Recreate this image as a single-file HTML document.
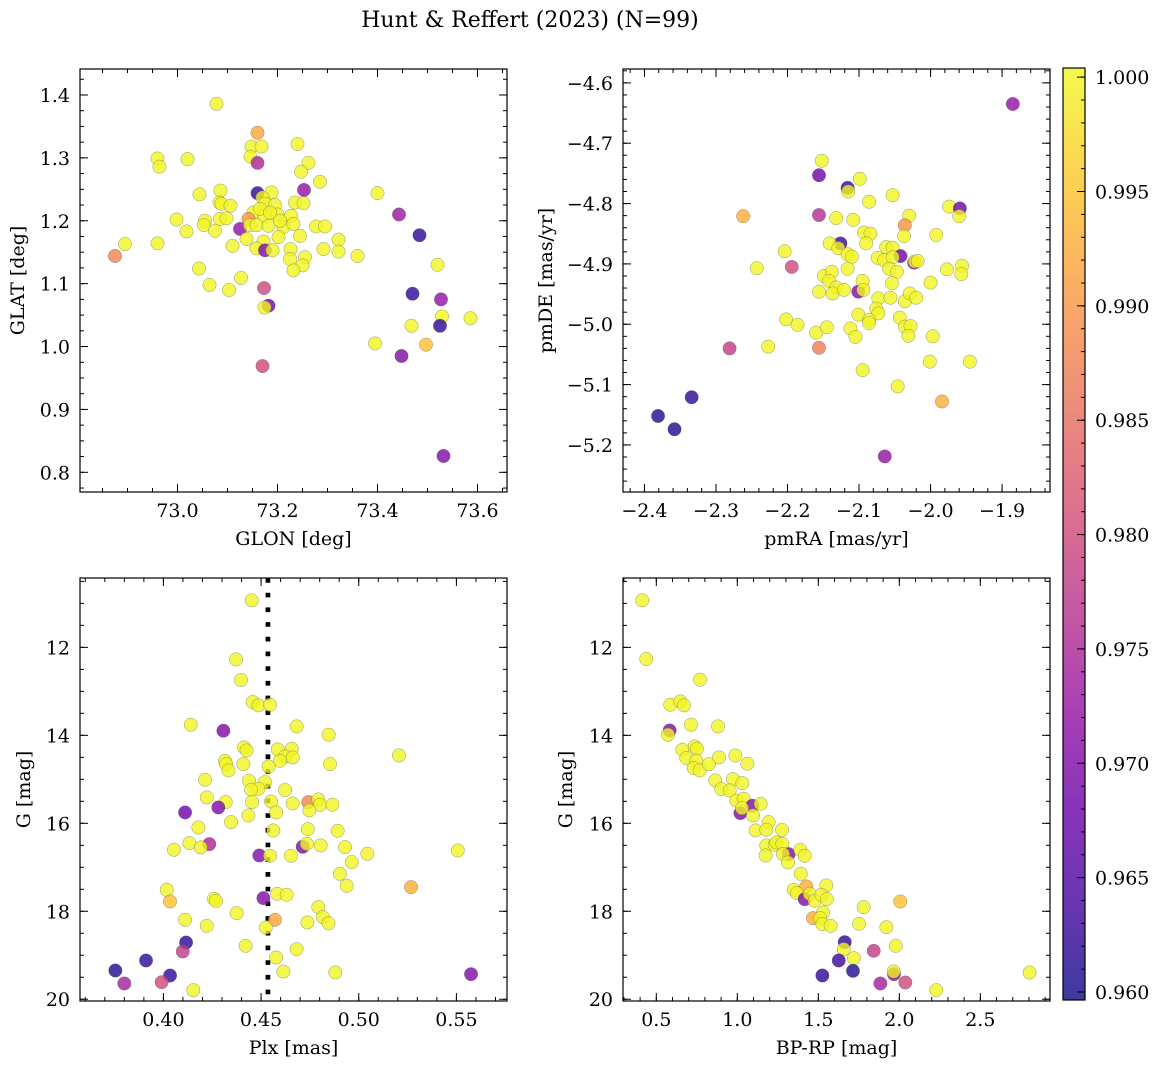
<!DOCTYPE html>
<html><head><meta charset="utf-8"><style>
html,body{margin:0;padding:0;background:#fff;}
svg{display:block;font-family:"DejaVu Serif","Liberation Serif",serif;}
</style></head><body>
<svg id="chart" width="1161" height="1068" viewBox="0 0 1161 1068" xmlns="http://www.w3.org/2000/svg">
<text x="530" y="27" text-anchor="middle" font-size="22">Hunt &amp; Reffert (2023) (N=99)</text>
</svg>
<script>
// ---- data: panel 1 (GLON/GLAT)
const glon=[73.078,73.160,73.148,73.168,73.146,73.160,73.240,73.262,73.247,73.285,72.960,72.964,73.020,73.253,73.160,73.044,73.086,73.188,73.170,73.084,73.088,73.106,73.175,73.195,73.235,73.252,73.400,73.443,73.484,72.998,73.055,73.085,73.098,73.152,73.174,73.200,73.227,73.142,73.053,73.075,73.125,73.145,73.158,73.182,73.212,73.232,73.277,73.295,73.018,72.895,72.960,73.110,73.138,73.172,73.202,73.245,73.322,73.158,73.175,73.190,73.226,73.225,73.255,73.250,73.232,73.292,73.322,73.360,72.875,73.520,73.043,73.127,73.064,73.103,73.173,73.182,73.174,73.470,73.527,73.529,73.525,73.586,73.468,73.395,73.497,73.448,73.170,73.532,73.165,73.185,73.205];
const glat=[1.386,1.340,1.318,1.318,1.302,1.292,1.322,1.292,1.278,1.262,1.299,1.286,1.298,1.249,1.244,1.242,1.248,1.245,1.237,1.229,1.227,1.224,1.227,1.225,1.229,1.228,1.244,1.210,1.177,1.202,1.200,1.203,1.204,1.213,1.208,1.210,1.208,1.203,1.193,1.184,1.187,1.193,1.193,1.192,1.190,1.195,1.191,1.191,1.183,1.163,1.164,1.160,1.171,1.167,1.174,1.176,1.170,1.156,1.153,1.153,1.155,1.139,1.142,1.129,1.121,1.155,1.151,1.144,1.144,1.130,1.124,1.109,1.098,1.090,1.093,1.065,1.062,1.084,1.075,1.048,1.033,1.045,1.033,1.005,1.003,0.985,0.969,0.826,1.219,1.213,1.200];
const prob1=[1,.992,1,1,1,.975,1,1,1,1,1,1,1,.972,.962,1,1,1,1,1,1,1,1,1,1,1,1,.973,.962,1,1,1,1,1,1,1,1,.99,1,1,.972,1,1,1,1,1,1,1,1,1,1,1,1,1,1,1,1,1,.970,1,1,1,1,1,1,1,1,1,.988,1,1,1,1,1,.980,.968,1,.962,.972,1,.962,1,1,1,.995,.970,.980,.970,1,1,1];
// ---- data: panel 2 (pmRA/pmDE)
const pmra=[-1.885,-2.152,-2.156,-2.116,-2.115,-2.099,-2.053,-2.086,-2.262,-2.156,-2.132,-2.108,-2.030,-2.036,-1.974,-1.959,-1.960,-2.093,-2.084,-2.090,-2.037,-1.992,-2.126,-2.141,-2.129,-2.204,-2.116,-2.110,-2.062,-2.053,-2.042,-2.074,-2.065,-2.053,-2.023,-2.022,-2.018,-2.243,-2.194,-2.116,-2.058,-2.047,-1.977,-1.956,-1.957,-2.149,-2.138,-2.142,-2.132,-2.137,-2.121,-2.156,-2.101,-2.095,-2.094,-2.054,-2.000,-2.073,-2.056,-2.036,-2.029,-2.020,-2.076,-2.073,-2.101,-2.086,-2.086,-2.043,-2.036,-2.028,-2.031,-1.997,-2.202,-2.186,-2.160,-2.145,-2.112,-2.105,-2.281,-2.227,-2.156,-2.095,-2.001,-1.945,-2.046,-1.984,-2.334,-2.381,-2.358,-2.064];
const pmde=[-4.635,-4.729,-4.753,-4.774,-4.780,-4.759,-4.786,-4.797,-4.821,-4.819,-4.824,-4.827,-4.820,-4.836,-4.805,-4.808,-4.821,-4.848,-4.850,-4.866,-4.854,-4.852,-4.866,-4.866,-4.874,-4.879,-4.884,-4.888,-4.872,-4.873,-4.887,-4.890,-4.894,-4.889,-4.898,-4.896,-4.895,-4.907,-4.905,-4.908,-4.908,-4.913,-4.909,-4.903,-4.917,-4.920,-4.913,-4.928,-4.939,-4.949,-4.943,-4.946,-4.946,-4.928,-4.943,-4.932,-4.931,-4.957,-4.956,-4.962,-4.949,-4.956,-4.974,-4.982,-4.984,-4.993,-4.998,-4.989,-5.004,-5.003,-5.019,-5.020,-4.992,-5.001,-5.014,-5.005,-5.007,-5.021,-5.040,-5.037,-5.039,-5.076,-5.062,-5.062,-5.103,-5.128,-5.121,-5.152,-5.174,-5.219];
const prob2=[.972,1,.968,.962,1,1,1,1,.993,.976,1,1,1,.99,1,.968,1,1,1,1,1,1,.963,1,1,1,1,1,1,1,.968,1,1,1,.97,1,1,1,.98,1,1,1,1,1,1,1,1,1,1,1,1,1,.97,1,1,1,1,1,1,1,1,1,1,1,1,1,1,1,1,1,1,1,1,1,1,1,1,1,.978,1,.987,1,1,1,1,.993,.962,.961,.961,.972];
// ---- data: panel 3 (Plx/G)
const plx=[.4452,.4372,.4397,.4457,.4486,.4546,.4140,.4307,.4682,.4846,.4413,.4426,.4585,.4657,.4623,.4662,.4597,.4315,.4321,.4333,.4409,.4539,.4853,.5206,.4213,.4438,.4520,.4486,.4449,.4623,.4222,.4319,.4454,.4551,.4662,.4742,.4793,.4802,.4865,.4747,.4111,.4281,.4435,.4577,.4346,.4179,.4563,.4739,.4892,.4133,.4235,.4191,.4054,.4491,.4546,.4653,.4713,.4734,.4805,.4930,.5044,.5507,.4964,.4904,.4938,.5268,.4017,.4034,.4259,.4269,.4512,.4583,.4631,.4375,.4793,.4816,.4845,.4571,.4111,.4222,.4524,.4737,.4116,.4099,.4421,.4682,.3911,.4577,.3754,.4034,.4614,.4880,.3800,.3991,.4153,.5575];
const gmag3=[10.931,12.273,12.743,13.243,13.319,13.304,13.759,13.895,13.797,13.986,14.274,14.343,14.320,14.305,14.479,14.502,14.578,14.578,14.654,14.797,14.654,14.707,14.654,14.456,15.010,15.033,15.063,15.215,15.237,15.245,15.412,15.518,15.518,15.503,15.548,15.518,15.457,15.578,15.578,15.707,15.753,15.639,15.821,15.753,15.973,16.094,16.162,16.132,16.170,16.450,16.473,16.549,16.602,16.731,16.738,16.738,16.534,16.465,16.503,16.541,16.693,16.617,16.882,17.148,17.421,17.451,17.512,17.777,17.716,17.762,17.701,17.603,17.625,18.042,17.906,18.133,18.270,18.194,18.194,18.331,18.368,18.255,18.710,18.914,18.785,18.861,19.119,19.051,19.346,19.460,19.369,19.392,19.642,19.612,19.794,19.430];
const prob3=[1,1,1,1,1,1,1,.97,1,1,1,1,1,1,1,1,1,1,1,1,1,1,1,1,1,1,1,1,1,1,1,1,1,1,1,.988,1,1,1,1,.968,.97,1,1,1,1,1,1,1,1,.975,1,1,.97,1,1,.97,1,1,1,1,1,1,1,1,.993,1,.995,1,1,.97,1,1,1,1,1,1,.992,1,1,1,1,.962,.978,1,1,.962,1,.961,.962,1,1,.974,.98,1,.97];
// ---- data: panel 4 (BP-RP/G)
const bprp=[0.413,0.438,0.770,0.586,0.648,0.671,0.582,0.572,0.714,0.881,0.661,0.737,0.751,0.685,0.747,0.731,0.768,0.825,0.887,0.988,1.062,0.864,0.973,1.031,0.901,0.953,0.994,1.039,1.093,1.144,1.019,1.029,1.097,1.193,1.113,1.179,1.276,1.179,1.231,1.241,1.278,1.317,1.175,1.282,1.313,1.389,1.416,1.391,1.348,1.426,1.368,1.416,1.447,1.477,1.549,1.519,1.553,1.467,1.529,1.512,1.525,1.576,1.780,2.006,1.751,1.920,1.663,1.657,1.626,1.720,1.842,1.978,1.714,1.525,1.967,1.965,1.883,2.037,2.228,2.804];
const gmag4=[10.931,12.265,12.735,13.304,13.228,13.319,13.888,13.986,13.759,13.797,14.327,14.252,14.305,14.517,14.578,14.745,14.797,14.654,14.502,14.456,14.646,15.025,14.995,15.086,15.222,15.252,15.487,15.442,15.601,15.556,15.768,15.654,15.821,15.973,16.162,16.147,16.147,16.503,16.488,16.435,16.465,16.701,16.731,16.701,16.890,16.602,16.738,17.148,17.512,17.436,17.587,17.724,17.603,17.762,17.413,17.625,17.724,18.156,18.027,18.156,18.293,18.331,17.906,17.777,18.285,18.361,18.702,18.861,19.119,19.066,18.899,18.785,19.354,19.460,19.430,19.369,19.642,19.619,19.794,19.392];
const prob4=[1,1,1,1,1,1,.97,1,1,1,1,1,1,1,1,1,1,1,1,1,1,1,1,1,1,1,1,1,.97,1,.97,1,1,1,1,1,1,1,1,1,1,.97,1,1,1,1,1,1,1,.993,1,.97,1,1,1,1,1,.993,1,1,1,1,1,.995,1,1,.962,1,.963,1,.978,1,.961,.962,.97,1,.974,.98,1,1];
// ---- tick arrays
const p1xTicks=[73.0,73.2,73.4,73.6], p1yTicks=[0.8,0.9,1.0,1.1,1.2,1.3,1.4];
const p2xTicks=[-2.4,-2.3,-2.2,-2.1,-2.0,-1.9], p2yTicks=[-4.6,-4.7,-4.8,-4.9,-5.0,-5.1,-5.2];
const p3xTicks=[0.40,0.45,0.50,0.55], gTicks=[12,14,16,18,20];
const p4xTicks=[0.5,1.0,1.5,2.0,2.5];
const cbTicks=[0.960,0.965,0.970,0.975,0.980,0.985,0.990,0.995,1.000];
const plxMean=0.4535;
const VMIN=0.95965, VMAX=1.0004;

const NS="http://www.w3.org/2000/svg";
const svg=document.getElementById('chart');
function mk(tag,attrs,parent){const e=document.createElementNS(NS,tag);for(const k in attrs)e.setAttribute(k,attrs[k]);(parent||svg).appendChild(e);return e;}
const PL=["#0d0887","#41049d","#6a00a8","#8f0da4","#b12a90","#cc4778","#e16462","#f2844b","#fca636","#fcce25","#f0f921"];
function hex(h){return [parseInt(h.substr(1,2),16),parseInt(h.substr(3,2),16),parseInt(h.substr(5,2),16)];}
function plasma(v){let t=(v-VMIN)/(VMAX-VMIN);t=Math.max(0,Math.min(1,t));const f=t*10,i=Math.min(9,Math.floor(f)),u=f-i;const a=hex(PL[i]),b=hex(PL[i+1]);return 'rgb('+a.map((c,k)=>Math.round(c+(b[k]-c)*u)).join(',')+')';}
function fmt(v,d){return (v<0?'\u2212':'')+Math.abs(v).toFixed(d);}
const FS=19;

function panel(c){
  const sx=v=>c.x0+(v-c.xd[0])/(c.xd[1]-c.xd[0])*(c.x1-c.x0);
  const sy=v=>c.y0+(v-c.yd[0])/(c.yd[1]-c.yd[0])*(c.y1-c.y0);
  const g=mk('g',{});
  
  
  const cp=mk('clipPath',{id:'cp-'+c.name},g);
  mk('rect',{x:c.x0,y:c.y0,width:c.x1-c.x0,height:c.y1-c.y0},cp);
  const pts=mk('g',{'clip-path':'url(#cp-'+c.name+')'},g);
  if(c.vline!==undefined){
    const l=mk('line',{x1:sx(c.vline),x2:sx(c.vline),y1:c.y0,y2:c.y1,stroke:'#000','stroke-width':4.7,'stroke-dasharray':'4.7 10'},pts);
    
    
  }
  for(let i=0;i<c.xs.length;i++){
    const ci=mk('circle',{cx:sx(c.xs[i]),cy:sy(c.ys[i]),r:6.7,fill:plasma(c.ps[i]),'fill-opacity':0.8,stroke:'#555','stroke-width':0.5,'stroke-opacity':0.6},pts);
    
    
  }
  const fr=mk('rect',{x:c.x0,y:c.y0,width:c.x1-c.x0,height:c.y1-c.y0,fill:'none',stroke:'#000','stroke-width':1.2},g);
  
  
  const tk=mk('g',{stroke:'#000','stroke-width':1},g);
  const xlo=Math.min(...c.xd),xhi=Math.max(...c.xd),ylo=Math.min(...c.yd),yhi=Math.max(...c.yd);
  for(let v=Math.ceil(xlo/c.xm-1e-6)*c.xm;v<=xhi;v+=c.xm){const X=sx(v);mk('line',{x1:X,x2:X,y1:c.y1,y2:c.y1-4},tk);mk('line',{x1:X,x2:X,y1:c.y0,y2:c.y0+4},tk);}
  for(let v=Math.ceil(ylo/c.ym-1e-6)*c.ym;v<=yhi;v+=c.ym){const Y=sy(v);mk('line',{x1:c.x0,x2:c.x0+4,y1:Y,y2:Y},tk);mk('line',{x1:c.x1,x2:c.x1-4,y1:Y,y2:Y},tk);}
  c.xt.forEach(v=>{const X=sx(v);mk('line',{x1:X,x2:X,y1:c.y1,y2:c.y1-8},tk);mk('line',{x1:X,x2:X,y1:c.y0,y2:c.y0+8},tk);
    const t=mk('text',{x:X,y:c.y1+25,'text-anchor':'middle','font-size':FS},g);t.textContent=fmt(v,c.xdec);
    
    });
  c.yt.forEach(v=>{const Y=sy(v);mk('line',{x1:c.x0,x2:c.x0+8,y1:Y,y2:Y},tk);mk('line',{x1:c.x1,x2:c.x1-8,y1:Y,y2:Y},tk);
    const t=mk('text',{x:c.x0-10,y:Y+7,'text-anchor':'end','font-size':FS},g);t.textContent=fmt(v,c.ydec);
    
    });
  const xl=mk('text',{x:(c.x0+c.x1)/2,y:c.y1+53,'text-anchor':'middle','font-size':FS},g);xl.textContent=c.xlab;
  
  
  const yl=mk('text',{x:0,y:0,'text-anchor':'middle','font-size':FS,transform:'translate('+c.ylx+','+((c.y0+c.y1)/2)+') rotate(-90)'},g);yl.textContent=c.ylab;
  
  
}
panel({name:'glon-glat-panel',x0:80,x1:507,y0:69,y1:492,xd:[72.805,73.659],yd:[1.4413,0.7687],xs:glon,ys:glat,ps:prob1,xt:p1xTicks,yt:p1yTicks,xm:0.05,ym:0.025,xdec:1,ydec:1,xlab:'GLON [deg]',ylab:'GLAT [deg]',ylx:24});
panel({name:'pm-panel',x0:623,x1:1050,y0:69,y1:492,xd:[-2.430,-1.833],yd:[-4.577,-5.278],xs:pmra,ys:pmde,ps:prob2,xt:p2xTicks,yt:p2yTicks,xm:0.02,ym:0.02,xdec:1,ydec:1,xlab:'pmRA [mas/yr]',ylab:'pmDE [mas/yr]',ylx:552});
panel({name:'plx-g-panel',x0:80,x1:507,y0:578,y1:1001,xd:[0.3573,0.5759],yd:[10.423,20.04],xs:plx,ys:gmag3,ps:prob3,xt:p3xTicks,yt:gTicks,xm:0.01,ym:0.5,xdec:2,ydec:0,xlab:'Plx [mas]',ylab:'G [mag]',ylx:30,vline:plxMean});
panel({name:'cmd-panel',x0:623,x1:1050,y0:578,y1:1001,xd:[0.2944,2.930],yd:[10.423,20.04],xs:bprp,ys:gmag4,ps:prob4,xt:p4xTicks,yt:gTicks,xm:0.1,ym:0.5,xdec:1,ydec:0,xlab:'BP-RP [mag]',ylab:'G [mag]',ylx:572});

// colorbar
const cb=mk('g',{});


const defs=mk('defs',{},cb);
const lg=mk('linearGradient',{id:'plg',x1:0,y1:1,x2:0,y2:0},defs);
PL.forEach((c,i)=>mk('stop',{offset:(i*10)+'%','stop-color':c},lg));
const CX0=1063,CX1=1085,CY0=68,CY1=1000;
const cy=v=>CY1-(v-VMIN)/(VMAX-VMIN)*(CY1-CY0);
mk('rect',{x:CX0,y:CY0,width:CX1-CX0,height:CY1-CY0,fill:'url(#plg)','fill-opacity':0.8},cb);
mk('rect',{x:CX0,y:CY0,width:CX1-CX0,height:CY1-CY0,fill:'none',stroke:'#000','stroke-width':1.2},cb);
for(let v=0.960;v<=1.0004;v+=0.001){const Y=cy(v);mk('line',{x1:CX1,x2:CX1-4,y1:Y,y2:Y,stroke:'#000'},cb);}
cbTicks.forEach(v=>{const Y=cy(v);mk('line',{x1:CX1,x2:CX1-8,y1:Y,y2:Y,stroke:'#000'},cb);
  const t=mk('text',{x:CX1+10,y:Y+7,'font-size':FS},cb);t.textContent=v.toFixed(3);
  
  });
</script>
</body></html>
